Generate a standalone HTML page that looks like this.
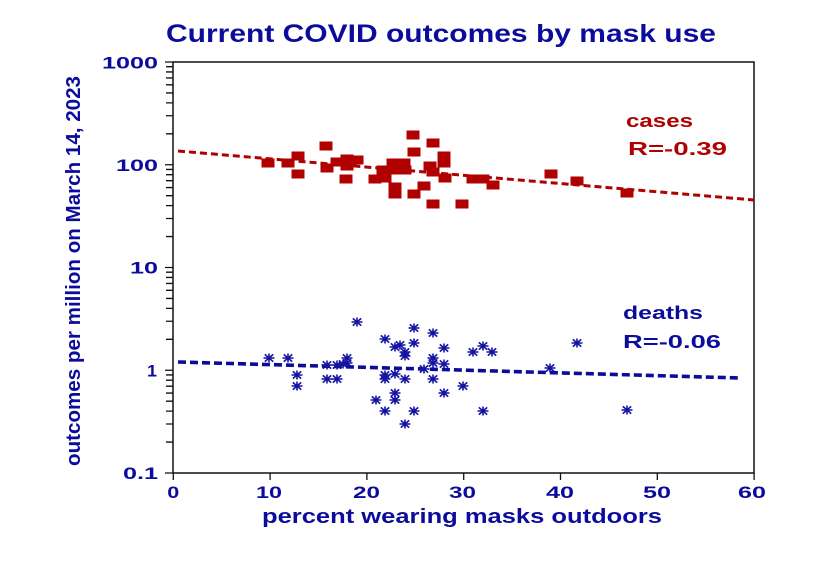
<!DOCTYPE html>
<html>
<head>
<meta charset="utf-8">
<style>
  html, body { margin: 0; padding: 0; background: #ffffff; }
  svg { display: block; }
  text { font-family: "Liberation Sans", Arial, sans-serif; font-weight: bold; }
</style>
</head>
<body>
<svg width="825" height="574" viewBox="0 0 825 574" xmlns="http://www.w3.org/2000/svg">
  <rect x="0" y="0" width="825" height="574" fill="#ffffff"/>
  <defs>
    <g id="st" stroke="#1414a0" stroke-width="1.6" fill="none">
      <path d="M-5.5 0 H5.5 M0 -4.5 V4.5 M-4.2 -3.6 L4.2 3.6 M-4.2 3.6 L4.2 -3.6"/>
    </g>
    <rect id="sq" x="-6.5" y="-4.5" width="13" height="9" fill="#b00000"/>
  </defs>

  <text x="166" y="42" font-size="25" fill="#0c0c9c" textLength="550" lengthAdjust="spacingAndGlyphs">Current COVID outcomes by mask use</text>

  <rect x="173" y="62" width="581" height="411" fill="none" stroke="#111" stroke-width="1.5"/>

  <g stroke="#111" stroke-width="1.3">
    <path d="M165 62H173 M165 164.75H173 M165 267.5H173 M165 370.25H173 M165 473H173"/>
    <path d="M166 133.82H173 M166 115.73H173 M166 102.89H173 M166 92.93H173 M166 84.80H173 M166 77.92H173 M166 71.96H173 M166 66.70H173"/>
    <path d="M166 236.57H173 M166 218.48H173 M166 205.64H173 M166 195.68H173 M166 187.55H173 M166 180.67H173 M166 174.71H173 M166 169.45H173"/>
    <path d="M166 339.32H173 M166 321.23H173 M166 308.39H173 M166 298.43H173 M166 290.30H173 M166 283.42H173 M166 277.46H173 M166 272.20H173"/>
    <path d="M166 442.07H173 M166 423.98H173 M166 411.14H173 M166 401.18H173 M166 393.05H173 M166 386.17H173 M166 380.21H173 M166 374.95H173"/>
    <path d="M173.3 473V480 M270.1 473V480 M366.9 473V480 M463.7 473V480 M560.5 473V480 M657.3 473V480 M754.1 473V480"/>
  </g>

  <g font-size="17" fill="#0c0c9c" text-anchor="end">
    <text x="158" y="68.5" textLength="56" lengthAdjust="spacingAndGlyphs">1000</text>
    <text x="158" y="171" textLength="42" lengthAdjust="spacingAndGlyphs">100</text>
    <text x="158" y="273.5" textLength="28" lengthAdjust="spacingAndGlyphs">10</text>
    <text x="157" y="376.5" textLength="10" lengthAdjust="spacingAndGlyphs">1</text>
    <text x="158" y="479" textLength="35" lengthAdjust="spacingAndGlyphs">0.1</text>
  </g>

  <g font-size="17" fill="#0c0c9c">
    <text x="167.3" y="498" textLength="12" lengthAdjust="spacingAndGlyphs">0</text>
    <text x="256" y="498" textLength="26" lengthAdjust="spacingAndGlyphs">10</text>
    <text x="353" y="498" textLength="27" lengthAdjust="spacingAndGlyphs">20</text>
    <text x="449" y="498" textLength="27" lengthAdjust="spacingAndGlyphs">30</text>
    <text x="546" y="498" textLength="28" lengthAdjust="spacingAndGlyphs">40</text>
    <text x="643" y="498" textLength="28" lengthAdjust="spacingAndGlyphs">50</text>
    <text x="738" y="498" textLength="28" lengthAdjust="spacingAndGlyphs">60</text>
  </g>

  <text x="262" y="523" font-size="20" fill="#0c0c9c" textLength="400" lengthAdjust="spacingAndGlyphs">percent wearing masks outdoors</text>
  <text transform="translate(80,466) rotate(-90)" x="0" y="0" font-size="20" fill="#0c0c9c" textLength="390" lengthAdjust="spacingAndGlyphs">outcomes per million on March 14, 2023</text>

  <line x1="178" y1="151" x2="754" y2="200" stroke="#b00000" stroke-width="3" stroke-dasharray="7 4"/>
  <line x1="178" y1="362" x2="740" y2="378" stroke="#0c0c9c" stroke-width="3.6" stroke-dasharray="8 4"/>

  <g>
    <use href="#sq" x="268" y="163"/>
    <use href="#sq" x="288" y="163"/>
    <use href="#sq" x="298" y="156"/>
    <use href="#sq" x="298" y="174"/>
    <use href="#sq" x="326" y="146"/>
    <use href="#sq" x="327" y="168"/>
    <use href="#sq" x="337" y="162"/>
    <use href="#sq" x="347" y="159"/>
    <use href="#sq" x="357" y="160"/>
    <use href="#sq" x="347" y="166"/>
    <use href="#sq" x="346" y="179"/>
    <use href="#sq" x="375" y="179"/>
    <use href="#sq" x="385" y="178"/>
    <use href="#sq" x="383" y="170"/>
    <use href="#sq" x="395" y="170"/>
    <use href="#sq" x="405" y="170"/>
    <use href="#sq" x="393" y="163"/>
    <use href="#sq" x="404" y="163"/>
    <use href="#sq" x="395" y="187"/>
    <use href="#sq" x="395" y="194"/>
    <use href="#sq" x="413" y="135"/>
    <use href="#sq" x="414" y="152"/>
    <use href="#sq" x="433" y="143"/>
    <use href="#sq" x="444" y="156"/>
    <use href="#sq" x="444" y="163"/>
    <use href="#sq" x="430" y="166"/>
    <use href="#sq" x="433" y="172"/>
    <use href="#sq" x="445" y="178"/>
    <use href="#sq" x="424" y="186"/>
    <use href="#sq" x="414" y="194"/>
    <use href="#sq" x="433" y="204"/>
    <use href="#sq" x="462" y="204"/>
    <use href="#sq" x="473" y="179"/>
    <use href="#sq" x="483" y="179"/>
    <use href="#sq" x="493" y="185"/>
    <use href="#sq" x="551" y="174"/>
    <use href="#sq" x="577" y="181"/>
    <use href="#sq" x="627" y="193"/>
  </g>

  <g>
    <use href="#st" x="357" y="322"/>
    <use href="#st" x="414" y="328"/>
    <use href="#st" x="433" y="333"/>
    <use href="#st" x="385" y="339"/>
    <use href="#st" x="395" y="347"/>
    <use href="#st" x="400" y="345"/>
    <use href="#st" x="414" y="343"/>
    <use href="#st" x="444" y="348"/>
    <use href="#st" x="405" y="352"/>
    <use href="#st" x="405" y="356"/>
    <use href="#st" x="473" y="352"/>
    <use href="#st" x="483" y="346"/>
    <use href="#st" x="492" y="352"/>
    <use href="#st" x="269" y="358"/>
    <use href="#st" x="288" y="358"/>
    <use href="#st" x="347" y="358"/>
    <use href="#st" x="347" y="363"/>
    <use href="#st" x="327" y="365"/>
    <use href="#st" x="337" y="365"/>
    <use href="#st" x="343" y="364"/>
    <use href="#st" x="433" y="358"/>
    <use href="#st" x="433" y="363"/>
    <use href="#st" x="444" y="364"/>
    <use href="#st" x="424" y="369"/>
    <use href="#st" x="297" y="375"/>
    <use href="#st" x="385" y="375"/>
    <use href="#st" x="395" y="374"/>
    <use href="#st" x="385" y="379"/>
    <use href="#st" x="405" y="379"/>
    <use href="#st" x="433" y="379"/>
    <use href="#st" x="327" y="379"/>
    <use href="#st" x="337" y="379"/>
    <use href="#st" x="297" y="386"/>
    <use href="#st" x="395" y="393"/>
    <use href="#st" x="444" y="393"/>
    <use href="#st" x="463" y="386"/>
    <use href="#st" x="376" y="400"/>
    <use href="#st" x="395" y="400"/>
    <use href="#st" x="385" y="411"/>
    <use href="#st" x="414" y="411"/>
    <use href="#st" x="483" y="411"/>
    <use href="#st" x="405" y="424"/>
    <use href="#st" x="577" y="343"/>
    <use href="#st" x="550" y="368"/>
    <use href="#st" x="627" y="410"/>
  </g>

  <text x="626" y="127" font-size="18" fill="#b00000" textLength="67" lengthAdjust="spacingAndGlyphs">cases</text>
  <text x="628" y="155" font-size="18" fill="#b00000" textLength="99" lengthAdjust="spacingAndGlyphs">R=-0.39</text>
  <text x="623" y="319" font-size="18" fill="#0c0c9c" textLength="80" lengthAdjust="spacingAndGlyphs">deaths</text>
  <text x="623" y="348" font-size="18" fill="#0c0c9c" textLength="98" lengthAdjust="spacingAndGlyphs">R=-0.06</text>
</svg>
</body>
</html>
